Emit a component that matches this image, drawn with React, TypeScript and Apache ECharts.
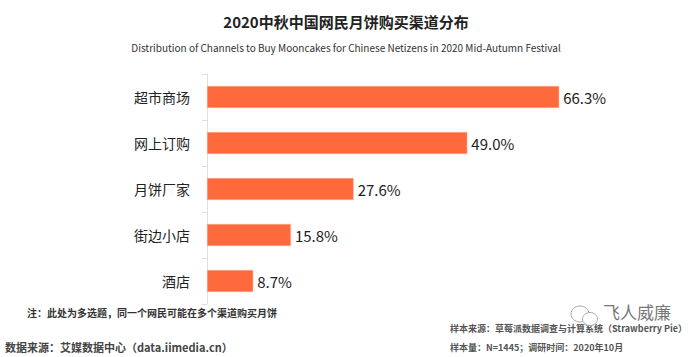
import React, { useEffect, useRef } from "react";
import * as echarts from "echarts";

const categories = ["超市商场", "网上订购", "月饼厂家", "街边小店", "酒店"];
const values = [66.3, 49.0, 27.6, 15.8, 8.7];

const titleText = "2020中秋中国网民月饼购买渠道分布";
const subtitleText =
  "Distribution of Channels to Buy Mooncakes for Chinese Netizens in 2020 Mid-Autumn Festival";
const noteText = "注：此处为多选题，同一个网民可能在多个渠道购买月饼";
const sourceText = "数据来源：艾媒数据中心（data.iimedia.cn）";
const sampleSourceText = "样本来源：草莓派数据调查与计算系统（Strawberry Pie）";
const sampleSizeText = "样本量：N=1445；调研时间：2020年10月";
const watermarkText = "飞人威廉";

const FONT = '"Noto Sans CJK SC", "Noto Sans", sans-serif';

export default function App() {
  const ref = useRef<HTMLDivElement>(null);
  useEffect(() => {
    if (!ref.current) return;
    const chart = echarts.init(ref.current, null, { renderer: "svg" });
    chart.setOption({
      animation: false,
      backgroundColor: "#ffffff",
      title: [
        {
          text: titleText,
          left: "center",
          top: 9,
          textStyle: { fontFamily: FONT, fontSize: 15, fontWeight: "bold", color: "#222" },
        },
        {
          text: subtitleText,
          left: "center",
          top: 37,
          textStyle: { fontFamily: FONT, fontSize: 10, fontWeight: "normal", color: "#333" },
        },
      ],
      grid: { left: 207, top: 74, right: 60, bottom: 53, containLabel: false },
      xAxis: {
        type: "value",
        min: 0,
        max: 80,
        show: false,
      },
      yAxis: {
        type: "category",
        data: categories,
        inverse: true,
        axisLine: { show: true, lineStyle: { color: "#e0e0e0", width: 1 } },
        axisTick: { show: true, length: 5, lineStyle: { color: "#e0e0e0" } },
        axisLabel: { fontFamily: FONT, fontSize: 14, color: "#222", margin: 17 },
        splitLine: { show: false },
      },
      series: [
        {
          type: "bar",
          data: values,
          barWidth: 22,
          itemStyle: { color: "#FF6A3D", borderColor: "#FFB49C", borderWidth: 0.5 },
          label: {
            show: true,
            position: "right",
            distance: 4,
            fontFamily: FONT,
            fontSize: 15,
            color: "#222",
            formatter: (p: any) => Number(p.value).toFixed(1) + "%",
          },
        },
      ],
      graphic: [
        {
          type: "text",
          left: 27,
          top: 307,
          style: { text: noteText, fontFamily: FONT, fontSize: 10, fontWeight: "bold", fill: "#333" },
        },
        {
          type: "text",
          left: 5,
          top: 341,
          style: { text: sourceText, fontFamily: FONT, fontSize: 11, fontWeight: "bold", fill: "#444" },
        },
        {
          type: "text",
          left: 450,
          top: 324,
          style: { text: sampleSourceText, fontFamily: FONT, fontSize: 9, fontWeight: "bold", fill: "#555" },
        },
        {
          type: "text",
          left: 450,
          top: 343,
          style: { text: sampleSizeText, fontFamily: FONT, fontSize: 9, fontWeight: "bold", fill: "#555" },
        },
        {
          type: "ellipse",
          shape: { cx: 580, cy: 314, rx: 9, ry: 8 },
          style: { fill: "none", stroke: "#aaa", lineWidth: 1 },
        },
        {
          type: "ellipse",
          shape: { cx: 590, cy: 319, rx: 7.5, ry: 6.5 },
          style: { fill: "#fff", stroke: "#aaa", lineWidth: 1 },
        },
        {
          type: "text",
          left: 603,
          top: 303,
          style: { text: watermarkText, fontFamily: FONT, fontSize: 17, fill: "#777" },
        },
      ],
    });
    return () => chart.dispose();
  }, []);
  return (
    <div
      ref={ref}
      style={{ position: "fixed", left: 0, top: 0, width: 692, height: 357 }}
    />
  );
}
